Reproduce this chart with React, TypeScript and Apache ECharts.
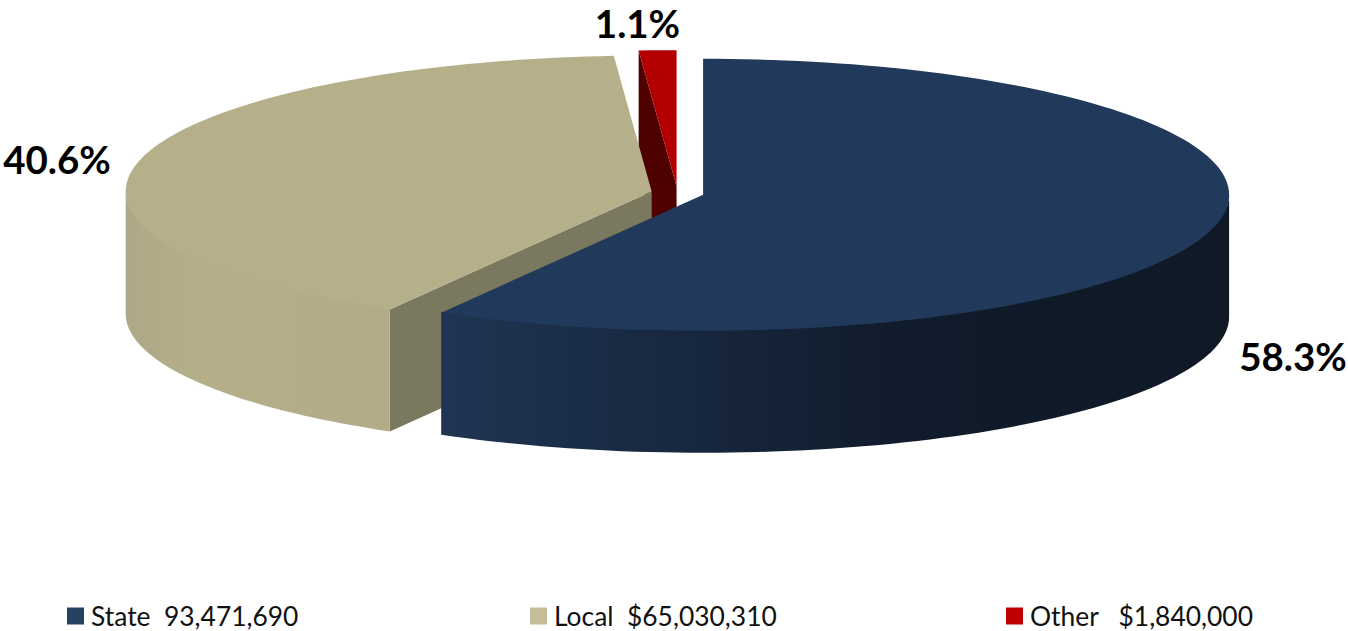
import React, { useEffect, useRef } from "react";
import * as echarts from "echarts";

// Funding sources, in dollars
const sourceNames = ["State", "Local", "Other"];
const sourceValues = [93471690, 65030310, 1840000];
const legendTexts = ["State  93,471,690", "Local  $65,030,310", "Other   $1,840,000"];
const topColors = ["#213a5b", "#b5af8a", "#b30000"];
const legendColors = ["#254061", "#c4bd97", "#c00000"];
const cutColors = ["#1f3452", "#7b7860", "#4f0000"];
const wallStops = [
  ["#0f1926", "#101b2b", "#1f3553"],
  ["#aea887", "#b5af8a", "#b1ab88"],
  ["#b30000", "#b30000", "#b30000"],
];
const wallMidOffset = [0.4, 0.3, 0.5];
const legendLefts = [67, 530, 1006];
const labelAnchors = [
  { x: 1293, y: 356 },
  { x: 57, y: 159 },
  { x: 637.5, y: 23 },
];

// Projection of the tilted pie
const centerX = 677.5;
const centerY = 193;
const radiusX = 526;
const radiusY = 136;
const thickness = 122;
const explode = 26.5;
const arcSteps = 240;

const total = sourceValues.reduce((a, b) => a + b, 0);
const toRad = (deg: number) => (deg * Math.PI) / 180;

// Clockwise angle in degrees, measured from twelve o'clock
const sliceSpans = sourceValues.map((v, i) => {
  const before = sourceValues.slice(0, i).reduce((a, b) => a + b, 0);
  return [(before / total) * 360, ((before + v) / total) * 360];
});

function sliceGeometry(index: number) {
  const [start, end] = sliceSpans[index];
  const mid = toRad((start + end) / 2);
  const cx = centerX + explode * Math.sin(mid);
  const cy = centerY - (explode * radiusY * Math.cos(mid)) / radiusX;
  const at = (deg: number, drop = 0): number[] => [
    cx + radiusX * Math.sin(toRad(deg)),
    cy - radiusY * Math.cos(toRad(deg)) + drop,
  ];
  const arc = (from: number, to: number, drop = 0) => {
    const pts: number[][] = [];
    const n = Math.max(2, Math.ceil((Math.abs(to - from) / 360) * arcSteps));
    for (let k = 0; k <= n; k++) pts.push(at(from + ((to - from) * k) / n, drop));
    return pts;
  };
  return { start, end, cx, cy, at, arc };
}

function drawSlice(index: number) {
  const g = sliceGeometry(index);
  const children: any[] = [];
  const apex = [g.cx, g.cy];
  const apexLow = [g.cx, g.cy + thickness];

  // Cut face of the first edge, seen only when the edge turns to the viewer's left
  if (Math.sin(toRad(g.start)) < 0) {
    children.push({
      type: "polygon",
      shape: { points: [apex, g.at(g.start), g.at(g.start, thickness), apexLow] },
      style: { fill: cutColors[index] },
    });
  }

  // Outer rim: only the near half of the ellipse, 90 to 270 degrees
  const rimFrom = Math.max(g.start, 90);
  const rimTo = Math.min(g.end, 270);
  if (rimTo > rimFrom) {
    const stops = wallStops[index];
    children.push({
      type: "polygon",
      shape: {
        points: [...g.arc(rimFrom, rimTo, -1), ...g.arc(rimTo, rimFrom, thickness)],
      },
      style: {
        fill: new echarts.graphic.LinearGradient(
          index === 0 ? 1 : 0,
          0,
          index === 0 ? 0 : 1,
          0,
          [
            { offset: 0, color: stops[0] },
            { offset: wallMidOffset[index], color: stops[1] },
            { offset: 1, color: stops[2] },
          ],
        ),
      },
    });
  }

  children.push({
    type: "polygon",
    shape: { points: [apex, ...g.arc(g.start, g.end)] },
    style: { fill: topColors[index] },
  });

  const share = (sourceValues[index] / total) * 100;
  children.push({
    type: "text",
    style: {
      x: labelAnchors[index].x,
      y: labelAnchors[index].y,
      text: `${share.toFixed(1)}%`,
      fill: "#000",
      font: "bold 38.5px Lato, sans-serif",
      align: "center",
      verticalAlign: "middle",
    },
  });
  return { type: "group", children };
}

export default function App() {
  const ref = useRef<HTMLDivElement>(null);
  useEffect(() => {
    const chart = echarts.init(ref.current!, undefined, { renderer: "svg" });
    // Painted back to front: the small slice first, the large one last
    const paintOrder = [2, 1, 0];
    chart.setOption({
      animation: false,
      backgroundColor: "#fff",
      legend: sourceNames.map((_, i) => ({
        data: [legendTexts[i]],
        left: legendLefts[i],
        top: 603,
        icon: "rect",
        itemWidth: 17,
        itemHeight: 17,
        itemGap: 0,
        padding: 0,
        selectedMode: false,
        textStyle: { fontFamily: "Lato, sans-serif", fontSize: 26.4, color: "#111", padding: [0, 0, 0, 2] },
      })),
      series: paintOrder.map((i) => ({
        type: "custom",
        name: legendTexts[i],
        coordinateSystem: "none",
        silent: true,
        itemStyle: { color: legendColors[i] },
        data: [sourceValues[i]],
        renderItem: () => drawSlice(i),
      })),
    });
    return () => chart.dispose();
  }, []);
  return <div ref={ref} style={{ position: "fixed", left: 0, top: 0, width: 1348, height: 631 }} />;
}
